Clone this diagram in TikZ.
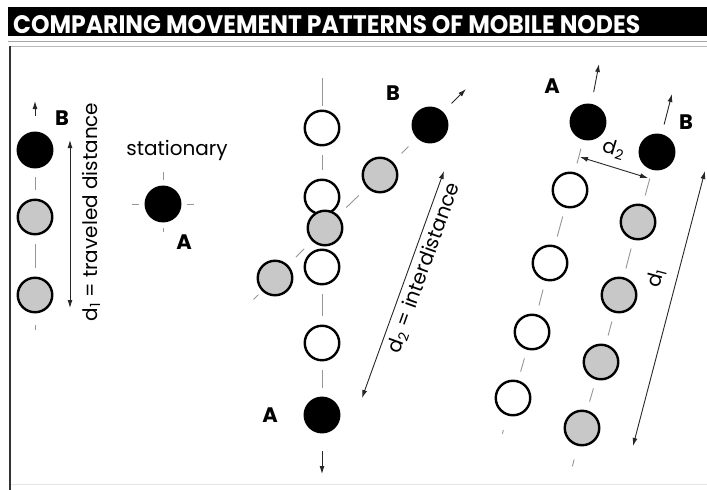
\documentclass[tikz,border=0pt]{standalone}
\usepackage{fontspec}
\setmainfont{Poppins}
\usetikzlibrary{arrows.meta}
\definecolor{nodegray}{RGB}{200,200,200}
\definecolor{tickgray}{RGB}{150,150,150}
\begin{document}
\begin{tikzpicture}[x=1pt,y=-1pt,
  circ/.style={circle,draw=black,line width=2.4pt,minimum size=34.5pt,inner sep=0pt},
  wnode/.style={circ,fill=white},
  gnode/.style={circ,fill=nodegray},
  bnode/.style={circ,fill=black},
  tk/.style={draw=tickgray,line width=0.9pt,shorten <=#1,shorten >=#1},
  tk/.default=9pt,
  arr/.style={draw=black!85,line width=0.9pt,-{Latex[length=8pt,width=5pt]}},
  darr/.style={draw=black!85,line width=0.9pt,{Latex[length=8pt,width=5pt]}-{Latex[length=8pt,width=5pt]}},
  lab/.style={font=\fontsize{21}{21}\selectfont\bfseries,inner sep=0pt},
  txt/.style={font=\fontsize{20}{20}\selectfont,inner sep=0pt}]
\useasboundingbox (0,0) rectangle (707,490);
% title bar and frame
\fill[black] (8,7) rectangle (707,36);
\node[anchor=base west,inner sep=0pt,text=white] (title) at (13,33)
  {\resizebox{627pt}{18pt}{\bfseries COMPARING MOVEMENT PATTERNS OF MOBILE NODES}};
\draw[gray!70,line width=1.2pt] (8,41.5) -- (707,41.5);
\draw[gray!55,line width=1pt] (10,46) -- (707,46);
\draw[gray!20,line width=1pt] (10,484) -- (707,484);
\draw[black!80,line width=2pt] (10,46) -- (10,490);

% ---------- left panel ----------
\node[bnode] (L1) at (35,150) {};
\node[gnode] (L2) at (35,217) {};
\node[gnode] (L3) at (35,295) {};
\coordinate (L1tip) at (35,101);
\coordinate (L3end) at (35,342);
\draw[arr,shorten <=16pt] (L1) -- (L1tip);
\draw[tk] (L1) -- (L2);
\draw[tk] (L2) -- (L3);
\draw[tk=12pt] (L3) -- (L3end);
\node[lab] (LB) at (62,118) {B};
\coordinate (d1t) at (70,140);
\coordinate (d1b) at (70,308);
\draw[darr] (d1t) -- (d1b);
\node[txt,rotate=90] (d1txt) at (91,212) {d\textsubscript{1} = traveled distance};

\node[txt] (stat) at (177,150) {stationary};
\node[bnode] (S) at (163,204) {};
\coordinate (Sn) at (163,166);
\coordinate (Ss) at (163,238);
\coordinate (Sw) at (126,204);
\coordinate (Se) at (200,204);
\foreach \c in {Sn,Ss,Sw,Se} \draw[tk=6pt] (S) -- (\c);
\node[lab] (SA) at (184,242) {A};

% ---------- middle panel ----------
\coordinate (Mtop) at (322,74);
\node[wnode] (M1) at (322,128) {};
\node[wnode] (M2) at (322,197) {};
\node[gnode] (MG) at (325,228) {};
\node[wnode] (M3) at (322,267) {};
\node[wnode] (M4) at (322,343) {};
\node[bnode] (MA) at (322,415) {};
\coordinate (Mtip) at (322,474);
\draw[tk=4pt] (M1) -- (Mtop);
\draw[tk] (M1) -- (M2);
\draw[tk] (M3) -- (M4);
\draw[tk] (M4) -- (MA);
\draw[arr,shorten <=18pt] (MA) -- (Mtip);
\node[gnode] (MGL) at (275,278) {};
\node[gnode] (MGR) at (380,175) {};
\node[bnode] (MB) at (430,125) {};
\coordinate (MGLend) at (250,303);
\coordinate (MBtip) at (466,89);
\draw[tk=5pt] (MGL) -- (MGLend);
\draw[tk=11pt] (MGL) -- (MG);
\draw[tk=11pt] (MG) -- (MGR);
\draw[tk=12pt] (MGR) -- (MB);
\draw[arr,shorten <=12pt] (MB) -- (MBtip);
\node[lab] (MBl) at (393,93) {B};
\node[lab] (MAl) at (270,415) {A};
\coordinate (d2t) at (444,171);
\coordinate (d2b) at (362,398);
\draw[darr] (d2t) -- (d2b);
\node[txt,rotate=70.2] (d2txt) at (424,268) {d\textsubscript{2} = interdistance};

% ---------- right panel ----------
\node[bnode] (RA) at (588,122) {};
\node[wnode] (R1) at (570,190) {};
\node[wnode] (R2) at (550,263) {};
\node[wnode] (R3) at (532,332) {};
\node[wnode] (R4) at (513,398) {};
\node[bnode] (RB) at (657,152) {};
\node[gnode] (G1) at (638,222) {};
\node[gnode] (G2) at (619,295) {};
\node[gnode] (G3) at (601,362) {};
\node[gnode] (G4) at (582,428) {};
\coordinate (RAtip) at (599,64);
\coordinate (RBtip) at (672,94);
\coordinate (R4end) at (498,448);
\coordinate (G4end) at (569,480);
\draw[arr,shorten <=12pt] (RA) -- (RAtip);
\draw[arr,shorten <=10pt] (RB) -- (RBtip);
\draw[tk] (RA) -- (R1);
\draw[tk] (R1) -- (R2);
\draw[tk] (R2) -- (R3);
\draw[tk] (R3) -- (R4);
\draw[tk=15pt] (R4) -- (R4end);
\draw[tk] (RB) -- (G1);
\draw[tk] (G1) -- (G2);
\draw[tk] (G2) -- (G3);
\draw[tk] (G3) -- (G4);
\draw[tk=14pt] (G4) -- (G4end);
\node[lab] (RAl) at (552,86) {A};
\node[lab] (RBl) at (686,122) {B};
\coordinate (sd2a) at (580,157);
\coordinate (sd2b) at (648,178);
\draw[darr] (sd2a) -- (sd2b);
\node[txt,rotate=-17] (sd2txt) at (614,149) {d\textsubscript{2}};
\coordinate (rd1t) at (705,171);
\coordinate (rd1b) at (633,446);
\draw[darr] (rd1t) -- (rd1b);
\node[txt,rotate=75] (rd1txt) at (656,278) {d\textsubscript{1}};
\end{tikzpicture}
\end{document}
